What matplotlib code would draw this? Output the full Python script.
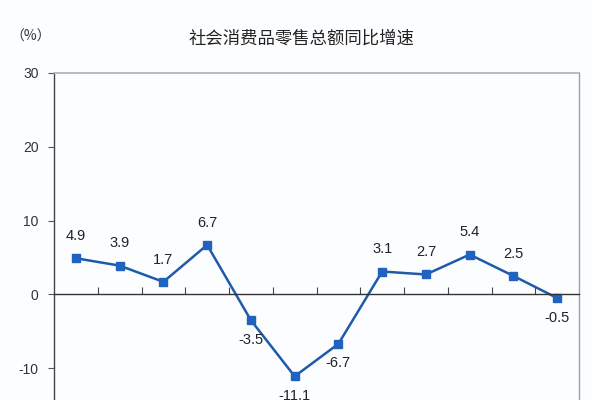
import matplotlib
matplotlib.use('Agg')
import matplotlib.pyplot as plt

# monthly year-on-year growth, %
values = [4.9, 3.9, 1.7, 6.7, -3.5, -11.1, -6.7, 3.1, 2.7, 5.4, 2.5, -0.5]
labels = ['4.9', '3.9', '1.7', '6.7', '-3.5', '-11.1', '-6.7', '3.1', '2.7', '5.4', '2.5', '-0.5']
yticks = [-10, 0, 10, 20, 30]
title = '社会消费品零售总额同比增速'
unit = '（%）'

plt.rcParams['font.family'] = ['Liberation Sans', 'Noto Sans CJK SC', 'DejaVu Sans']
plt.rcParams['axes.unicode_minus'] = False

fig = plt.figure(figsize=(5.92, 4), dpi=100, facecolor='#fcfdff')
# plot area runs past the bottom edge of the picture (image is cropped)
ax = fig.add_axes([0.0912, -0.105, 0.887, 0.9225])
ax.set_facecolor('#fcfdff')

x = list(range(len(values)))
line_col = '#1f5aaa'
ax.plot(x, values, color=line_col, lw=1.8, marker='s', ms=5.5,
        markerfacecolor='#1f62c0', markeredgecolor='#1f62c0')

for xi, v, s in zip(x, values, labels):
    dy = 16 if v > 0 else -14
    ax.annotate(s, (xi, v), xytext=(0, dy), textcoords='offset points',
                ha='center', va='center', fontsize=10.5, color='#222222')

ax.set_xlim(-0.5, len(values) - 0.5)
ax.set_ylim(-20, 30)
ax.set_yticks(yticks)
ax.tick_params(axis='y', length=4, width=0.8, color='#555555', labelsize=10,
               labelcolor='#333333', pad=7)

ax.spines['bottom'].set_position(('data', 0))
ax.spines['bottom'].set_color('#333333')
ax.spines['bottom'].set_linewidth(1.0)
ax.set_xticks([i + 0.5 for i in range(len(values) - 1)])
ax.set_xticklabels([])
ax.tick_params(axis='x', direction='in', length=5, width=0.8, color='#444444')

ax.spines['left'].set_color('#444444')
ax.spines['left'].set_linewidth(1.0)
ax.spines['top'].set_color('#b0b0b0')
ax.spines['top'].set_linewidth(1.2)
ax.spines['right'].set_color('#a0a0a0')
ax.spines['right'].set_linewidth(1.0)

fig.text(0.51, 0.905, title, ha='center', va='center', fontsize=12.5, color='#222222')
fig.text(0.052, 0.908, unit, ha='center', va='center', fontsize=10, color='#333333',
         family=['Noto Sans CJK SC', 'DejaVu Sans'])

fig.savefig('out.png', dpi=100, facecolor=fig.get_facecolor())
